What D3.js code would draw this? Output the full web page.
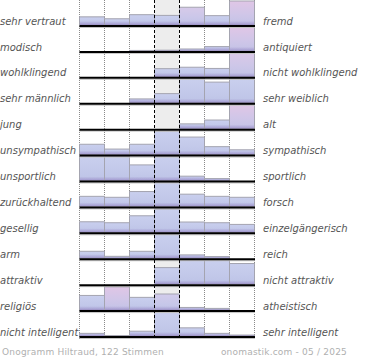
<!DOCTYPE html>
<html><head><meta charset="utf-8">
<script src="https://cdn.jsdelivr.net/npm/d3@7"></script>
<style>body{margin:0;background:#fff}svg{display:block}</style>
</head><body><svg id="c" width="370" height="360"></svg>
<script>
const leftLabels = ["sehr vertraut","modisch","wohlklingend","sehr männlich","jung","unsympathisch","unsportlich","zurückhaltend","gesellig","arm","attraktiv","religiös","nicht intelligent"];
const rightLabels = ["fremd","antiquiert","nicht wohlklingend","sehr weiblich","alt","sympathisch","sportlich","forsch","einzelgängerisch","reich","nicht attraktiv","atheistisch","sehr intelligent"];
const columns = [1,2,3,4,5,6,7];
// bar height per row and column (100 = full row)
const votes = [
  [34,26,43,40,74,39,100],
  [0,0,2,3,8,18,100],
  [0,0,0,34,40,35,100],
  [0,0,16,38,100,86,100],
  [0,0,0,0,20,36,100],
  [43,23,43,97,73,33,20],
  [100,100,65,100,18,8,0],
  [42,38,62,100,51,42,38],
  [44,40,69,97,43,40,33],
  [29,8,29,100,14,7,0],
  [0,0,0,69,100,100,86],
  [61,97,53,67,11,7,0],
  [11,2,20,98,34,11,4]
];
// pink tint of each bar (share of female votes, 0..1)
const femaleShare = [
  [0,0,0,0,0.6,0,1],
  [0,0,0,0,0,0,1],
  [0,0,0,0,0,0,0.8],
  [0,0,0,0,0,0,0],
  [0,0,0,0,0,0,1],
  [0,0,0,0,0,0,0],
  [0,0,0,0,0,0,0],
  [0,0,0,0,0,0,0],
  [0,0,0,0,0,0,0],
  [0,0,0,0,0,0,0],
  [0,0,0,0,0,0,0],
  [0,1,0,0.4,0,0,0],
  [0,0,0,0,0,0,0]
];
const footerLeft = "Onogramm Hiltraud, 122 Stimmen";
const footerRight = "onomastik.com - 05 / 2025";

const svg = d3.select("#c");
const defs = svg.append("defs");

const x = d3.scaleBand().domain(columns).range([79.5, 254.5]).padding(0);
const bw = x.bandwidth();
const rowBand = d3.scaleBand().domain(d3.range(leftLabels.length)).range([-0.92, 336]).padding(0);
const rh = rowBand.bandwidth();
const base = i => rowBand(i) + rh;
const h = d3.scaleLinear().domain([0,100]).range([0, 24]).clamp(true);
const chartBottom = base(leftLabels.length-1);

// center column background
svg.append("rect").attr("x", x(4)).attr("y", 0).attr("width", bw).attr("height", chartBottom)
  .attr("fill", "#ededed");

// dotted column lines
const bounds = columns.map(c => x(c)).concat([x(7)+bw]);
svg.append("g").selectAll("line").data(bounds.filter((b,i)=> i!==3 && i!==4)).join("line")
  .attr("x1", d=>d).attr("x2", d=>d).attr("y1", 0).attr("y2", chartBottom+4)
  .attr("stroke", "#8a8a8a").attr("stroke-width", 1).attr("stroke-dasharray", "1,1");

// bottom shading gradient
const bg = defs.append("linearGradient").attr("id","band").attr("x1",0).attr("x2",0).attr("y1",0).attr("y2",1);
bg.append("stop").attr("offset",0).attr("stop-color","#9a8cc8").attr("stop-opacity",0);
bg.append("stop").attr("offset",1).attr("stop-color","#9a8cc8").attr("stop-opacity",0.8);

const cells = [];
votes.forEach((row, i) => row.forEach((v, j) => cells.push({i, j, v, t: femaleShare[i][j]})));
const barCells = cells.filter(d => d.v > 0);

barCells.forEach(d => {
  const g = defs.append("linearGradient").attr("id", `g${d.i}_${d.j}`)
    .attr("x1",0).attr("x2",0).attr("y1",0).attr("y2",1);
  g.append("stop").attr("offset",0).attr("stop-color", d3.interpolateRgb("#c9cfee", "#e0c6e6")(d.t));
  g.append("stop").attr("offset",0.55).attr("stop-color", d3.interpolateRgb("#c3c9ea", "#d0c6e8")(d.t));
  g.append("stop").attr("offset",1).attr("stop-color", d3.interpolateRgb("#bdc3e6", "#c2c2e6")(d.t));
});

const bars = svg.append("g");
bars.selectAll("rect.bar").data(barCells).join("rect").attr("class","bar")
  .attr("x", d => x(columns[d.j]))
  .attr("y", d => base(d.i) - h(d.v))
  .attr("width", bw)
  .attr("height", d => h(d.v))
  .attr("fill", d => `url(#g${d.i}_${d.j})`)
  .attr("stroke", "#a4a4b0").attr("stroke-width", 1);
bars.selectAll("rect.band").data(barCells).join("rect").attr("class","band")
  .attr("x", d => x(columns[d.j]) + 0.5)
  .attr("y", d => base(d.i) - Math.min(h(d.v), 4))
  .attr("width", bw - 1)
  .attr("height", d => Math.min(h(d.v), 4))
  .attr("fill", "url(#band)");

// baselines
const rows = d3.range(leftLabels.length);
svg.append("g").selectAll("line").data(rows).join("line")
  .attr("x1", 79.5).attr("x2", 255).attr("y1", i => base(i)+2.5).attr("y2", i => base(i)+2.5)
  .attr("stroke", "#c4c4c4").attr("stroke-width", 1);
svg.append("g").selectAll("line").data(rows).join("line")
  .attr("x1", 79.5).attr("x2", 255).attr("y1", i => base(i)+1).attr("y2", i => base(i)+1)
  .attr("stroke", "#000").attr("stroke-width", 2);

// dashed center lines
svg.append("g").selectAll("line").data([bounds[3], bounds[4]]).join("line")
  .attr("x1", d=>d).attr("x2", d=>d).attr("y1", 0).attr("y2", chartBottom+4)
  .attr("stroke", "#000").attr("stroke-width", 1).attr("stroke-dasharray", "3,2");

// labels through axes
const yL = d3.scaleBand().domain(leftLabels).range([-0.92, 336]).padding(0);
const yR = d3.scaleBand().domain(rightLabels).range([-0.92, 336]).padding(0);
const labOff = rh/2 - 0.4;
const ax1 = svg.append("g").attr("transform","translate(0,0)").call(d3.axisRight(yL).tickSize(0).tickPadding(0));
const ax2 = svg.append("g").attr("transform","translate(263,0)").call(d3.axisRight(yR).tickSize(0).tickPadding(0));
[ax1, ax2].forEach(ax => {
  ax.select(".domain").remove();
  ax.selectAll("text").attr("x", 0).attr("y", labOff).attr("dy", 0)
    .attr("text-anchor","start")
    .style("font-family","'DejaVu Sans', sans-serif").style("font-style","italic")
    .style("font-size","10px").attr("fill","#555");
});

svg.append("text").attr("x", 2).attr("y", 355).text(footerLeft)
  .style("font-family","'DejaVu Sans', sans-serif").style("font-size","9px")
  .style("letter-spacing","0.2px").attr("fill","#b0b0b0");
svg.append("text").attr("x", 347).attr("y", 355).attr("text-anchor","end").text(footerRight)
  .style("font-family","'DejaVu Sans', sans-serif").style("font-size","9px")
  .style("letter-spacing","0.2px").attr("fill","#b0b0b0");
</script></body></html>
